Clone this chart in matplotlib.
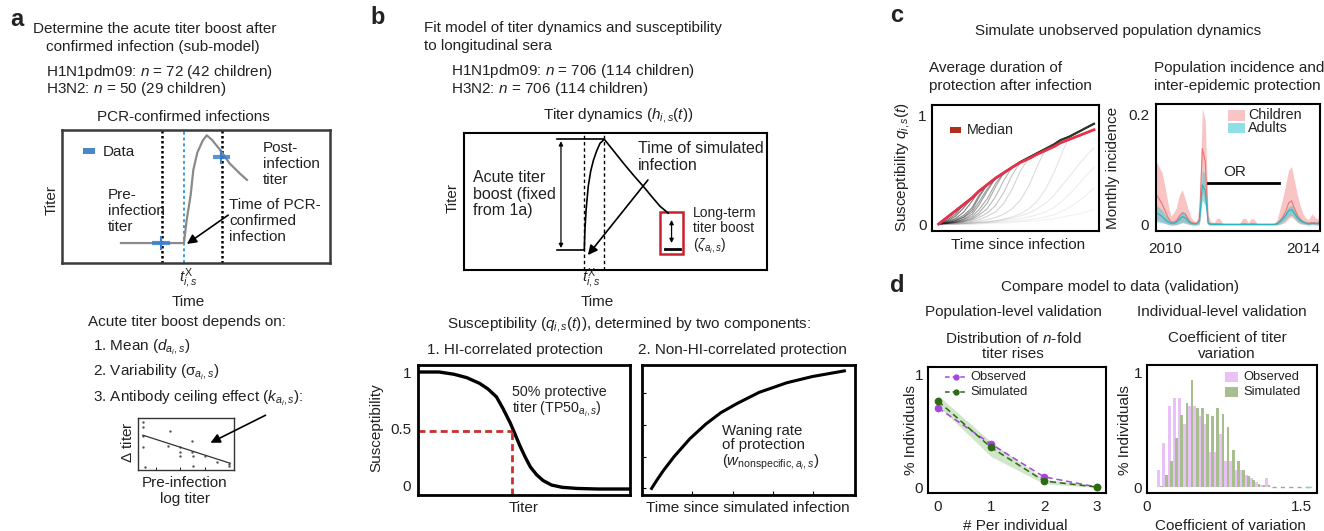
import numpy as np
import matplotlib
matplotlib.use("Agg")
import matplotlib.pyplot as plt
from matplotlib.patches import Rectangle, FancyArrowPatch
from matplotlib.lines import Line2D

plt.rcParams['font.family'] = ['Liberation Sans', 'DejaVu Sans']
plt.rcParams['mathtext.fontset'] = 'custom'
plt.rcParams['mathtext.rm'] = 'Liberation Sans'
plt.rcParams['mathtext.it'] = 'Liberation Sans:italic'
plt.rcParams['mathtext.bf'] = 'Liberation Sans:bold'
plt.rcParams['mathtext.sf'] = 'Liberation Sans'

# ---- panel a: schematic titer curve (time, titer in arbitrary 0-10 units)
t_pcr = [2.2, 4.55, 4.65, 4.8, 4.9, 5.05, 5.25, 5.4, 5.6, 5.9, 6.25, 6.65, 6.9]
h_pcr = [1.5, 1.5, 3.2, 5.1, 7.0, 8.3, 9.2, 9.6, 9.25, 8.5, 7.5, 6.7, 6.25]
sample_times = [3.73, 5.97]
pcr_time = 4.55
pre_titer = (3.36, 4.03, 1.5)
post_titer = (5.63, 6.27, 7.97)

# ceiling effect mini scatter
pre_log = [0.056, 0.056, 0.049, 0.05, 0.073, 0.33, 0.316, 0.44, 0.44, 0.44,
           0.56, 0.56, 0.57, 0.57, 0.70, 0.82, 0.95, 0.95]
delta_titer = [0.93, 0.83, 0.66, 0.45, 0.06, 0.75, 0.47, 0.45, 0.35, 0.26,
               0.56, 0.35, 0.27, 0.08, 0.26, 0.16, 0.11, 0.08]
fit_x = [0.05, 0.96]
fit_y = [0.67, 0.13]

# ---- panel b: titer dynamics
t_dyn = [3.07, 3.97, 3.99, 4.03, 4.1, 4.18, 4.27, 4.38, 4.49, 4.63, 4.9, 5.26,
         5.6, 5.92, 6.2, 6.47, 6.74]
h_dyn = [1.46, 1.46, 2.9, 4.4, 6.1, 7.2, 8.0, 8.7, 9.25, 9.54, 8.8, 7.8,
         6.9, 6.1, 5.35, 4.65, 4.15]

# susceptibility vs titer
sig_titer = [0.1, 1.0, 1.7, 2.3, 2.9, 3.3, 3.7, 4.0, 4.35, 4.6, 4.8, 5.05,
             5.3, 5.6, 5.9, 6.3, 6.8, 7.5, 8.5, 10.0]
sig_susc = [1.0, 1.0, 0.98, 0.95, 0.90, 0.85, 0.78, 0.68, 0.55, 0.44, 0.35,
            0.25, 0.16, 0.09, 0.04, 0.0, -0.02, -0.03, -0.035, -0.035]
tp50 = 4.45
tp50_level = 0.48

# waning of non-HI protection
wane_t = [0.45, 0.7, 1.0, 1.5, 2.25, 3.0, 3.7, 4.45, 5.5, 6.8, 8.0, 9.5]
wane_s = [-0.03, 0.044, 0.127, 0.25, 0.41, 0.54, 0.64, 0.72, 0.82, 0.905, 0.96, 1.01]

# ---- panel c left: susceptibility after infection
gx = [0.04, 0.09, 0.14, 0.19, 0.24, 0.28, 0.33, 0.38, 0.43, 0.48, 0.53, 0.58,
      0.63, 0.68, 0.73, 0.77, 0.82, 0.87, 0.92, 0.97]
envelope = [0.0, 0.06, 0.12, 0.18, 0.24, 0.30, 0.36, 0.42, 0.47, 0.52, 0.57,
            0.61, 0.65, 0.69, 0.73, 0.77, 0.80, 0.84, 0.88, 0.92]
median_q = [0.0, 0.06, 0.12, 0.18, 0.24, 0.30, 0.36, 0.42, 0.47, 0.52, 0.565,
            0.60, 0.64, 0.675, 0.71, 0.745, 0.775, 0.805, 0.835, 0.865]
gray_rises = [
    [0.0, 0.035, 0.09],
    [0.0, 0.025, 0.07, 0.15],
    [0.0, 0.02, 0.05, 0.11, 0.21],
    [0.0, 0.015, 0.04, 0.08, 0.15, 0.26],
    [0.0, 0.01, 0.03, 0.065, 0.13, 0.24],
    [0.0, 0.01, 0.03, 0.06, 0.11, 0.2, 0.32],
    [0.0, 0.01, 0.02, 0.045, 0.09, 0.17, 0.3],
    [0.0, 0.01, 0.02, 0.04, 0.07, 0.13, 0.23, 0.37],
    [0.0, 0.005, 0.015, 0.03, 0.055, 0.1, 0.19, 0.34],
    [0.0, 0.005, 0.015, 0.025, 0.045, 0.08, 0.14, 0.25, 0.4],
    [0.0, 0.005, 0.01, 0.02, 0.035, 0.06, 0.1, 0.17, 0.29, 0.45],
    [0.0, 0.005, 0.01, 0.015, 0.025, 0.04, 0.07, 0.11, 0.19, 0.32, 0.49],
    [0.0, 0.0, 0.005, 0.01, 0.015, 0.025, 0.04, 0.06, 0.09, 0.14, 0.22, 0.35, 0.53],
    [0.0, 0.0, 0.0, 0.005, 0.01, 0.015, 0.02, 0.03, 0.045, 0.065, 0.095, 0.14,
     0.21, 0.32, 0.47, 0.62],
    [0.0, 0.0, 0.0, 0.005, 0.01, 0.015, 0.02, 0.03, 0.04, 0.055, 0.075, 0.1,
     0.14, 0.19, 0.26, 0.34, 0.43, 0.53, 0.62, 0.70],
    [0.0, 0.0, 0.0, 0.0, 0.005, 0.01, 0.015, 0.02, 0.03, 0.04, 0.05, 0.065,
     0.085, 0.11, 0.15, 0.2, 0.27, 0.35, 0.44, 0.52],
    [0.0, 0.0, 0.0, 0.0, 0.0, 0.005, 0.01, 0.015, 0.02, 0.025, 0.03, 0.04,
     0.05, 0.065, 0.085, 0.11, 0.15, 0.2, 0.26, 0.33],
    [0.0, 0.0, 0.0, 0.0, 0.0, 0.0, 0.005, 0.01, 0.01, 0.015, 0.02, 0.025,
     0.03, 0.04, 0.05, 0.06, 0.075, 0.09, 0.11, 0.13],
]
gray_alpha = [0.6, 0.6, 0.55, 0.5, 0.5, 0.45, 0.45, 0.4, 0.38, 0.32, 0.26,
              0.2, 0.16, 0.12, 0.1, 0.08, 0.07, 0.06]

# ---- panel c right: monthly incidence, Oct 2009 onwards
start_year = 2009.75
child_med = [0.055, 0.047, 0.038, 0.026, 0.014, 0.006, 0.005, 0.008, 0.016, 0.022,
             0.020, 0.011, 0.005, 0.003, 0.003, 0.010, 0.139, 0.115, 0.004, 0.002,
             0.002, 0.002, 0.002, 0.001, 0.001, 0.001, 0.001, 0.001, 0.001, 0.001,
             0.002, 0.002, 0.001, 0.002, 0.002, 0.001, 0.001, 0.001, 0.001, 0.001,
             0.001, 0.001, 0.003, 0.008, 0.015, 0.025, 0.040, 0.044, 0.030, 0.018,
             0.010, 0.006, 0.004, 0.003, 0.004, 0.004, 0.003, 0.008]
child_lo = [0.010, 0.008, 0.005, 0.003, 0.001, 0.0, 0.0, 0.0, 0.002, 0.004,
            0.003, 0.001, 0.0, 0.0, 0.0, 0.0, 0.060, 0.040, 0.0, 0.0,
            0.0, 0.0, 0.0, 0.0, 0.0, 0.0, 0.0, 0.0, 0.0, 0.0,
            0.0, 0.0, 0.0, 0.0, 0.0, 0.0, 0.0, 0.0, 0.0, 0.0,
            0.0, 0.0, 0.0, 0.001, 0.003, 0.006, 0.012, 0.015, 0.010, 0.005,
            0.002, 0.001, 0.0, 0.0, 0.0, 0.0, 0.0, 0.0]
child_hi = [0.115, 0.105, 0.095, 0.070, 0.040, 0.016, 0.022, 0.032, 0.055, 0.064,
            0.048, 0.030, 0.014, 0.008, 0.006, 0.040, 0.212, 0.190, 0.018, 0.006,
            0.004, 0.012, 0.012, 0.004, 0.003, 0.003, 0.003, 0.003, 0.003, 0.003,
            0.012, 0.012, 0.004, 0.012, 0.010, 0.003, 0.003, 0.003, 0.003, 0.003,
            0.003, 0.003, 0.010, 0.030, 0.050, 0.075, 0.100, 0.106, 0.080, 0.055,
            0.035, 0.020, 0.012, 0.010, 0.020, 0.015, 0.010, 0.030]
adult_med = [0.022, 0.019, 0.015, 0.010, 0.006, 0.003, 0.003, 0.005, 0.010, 0.015,
             0.013, 0.007, 0.003, 0.002, 0.002, 0.008, 0.073, 0.062, 0.003, 0.001,
             0.001, 0.001, 0.001, 0.001, 0.001, 0.001, 0.001, 0.001, 0.001, 0.001,
             0.001, 0.001, 0.001, 0.001, 0.001, 0.001, 0.001, 0.001, 0.001, 0.001,
             0.001, 0.001, 0.002, 0.006, 0.011, 0.018, 0.026, 0.028, 0.021, 0.013,
             0.008, 0.005, 0.003, 0.002, 0.003, 0.003, 0.002, 0.005]
adult_lo = [0.006, 0.005, 0.004, 0.003, 0.001, 0.0, 0.0, 0.001, 0.003, 0.005,
            0.004, 0.002, 0.001, 0.0, 0.0, 0.003, 0.045, 0.035, 0.0, 0.0,
            0.0, 0.0, 0.0, 0.0, 0.0, 0.0, 0.0, 0.0, 0.0, 0.0,
            0.0, 0.0, 0.0, 0.0, 0.0, 0.0, 0.0, 0.0, 0.0, 0.0,
            0.0, 0.0, 0.0, 0.002, 0.005, 0.010, 0.016, 0.018, 0.012, 0.006,
            0.003, 0.002, 0.001, 0.0, 0.001, 0.001, 0.0, 0.001]
adult_hi = [0.036, 0.032, 0.027, 0.019, 0.012, 0.006, 0.007, 0.010, 0.018, 0.025,
            0.022, 0.013, 0.006, 0.004, 0.004, 0.015, 0.100, 0.092, 0.006, 0.003,
            0.002, 0.002, 0.002, 0.002, 0.002, 0.002, 0.002, 0.002, 0.002, 0.002,
            0.002, 0.002, 0.002, 0.002, 0.002, 0.002, 0.002, 0.002, 0.002, 0.002,
            0.002, 0.002, 0.005, 0.010, 0.016, 0.024, 0.034, 0.036, 0.028, 0.019,
            0.012, 0.008, 0.006, 0.005, 0.006, 0.005, 0.004, 0.010]
or_span = (2011.26, 2013.3)
or_level = 0.077

# ---- panel d left: n-fold rises
n_rises = [0, 1, 2, 3]
obs_frac = [0.70, 0.38, 0.09, 0.0]
sim_frac = [0.76, 0.35, 0.053, 0.0]
sim_lo = [0.72, 0.27, 0.03, -0.005]
sim_hi = [0.81, 0.40, 0.07, 0.01]

# ---- panel d right: coefficient of variation histogram
cv_bins = [0.10, 0.15, 0.20, 0.25, 0.30, 0.35, 0.40, 0.45, 0.50, 0.55, 0.60, 0.65,
           0.70, 0.75, 0.80, 0.85, 0.90, 0.95, 1.00, 1.05, 1.10, 1.15, 1.20]
cv_obs = [0.15, 0.39, 0.71, 0.78, 0.78, 0.55, 0.71, 0.71, 0.62, 0.55, 0.31, 0.31,
          0.47, 0.23, 0.23, 0.15, 0.15, 0.11, 0.08, 0.05, 0.02, 0.08, 0.0]
cv_sim = [0.01, 0.11, 0.23, 0.43, 0.63, 0.74, 0.94, 0.69, 0.69, 0.64, 0.62, 0.69,
          0.64, 0.53, 0.33, 0.23, 0.15, 0.10, 0.06, 0.03, 0.02, 0.02, 0.0]
cv_tail = [1.22, 1.6]

W, H = 1324, 531
fig = plt.figure(figsize=(W / 100, H / 100), dpi=100)
TXT = '#222222'
FS = 11


def px_axes(x0, y0, x1, y1, lw=1.5, ec='black'):
    ax = fig.add_axes([x0 / W, 1 - y1 / H, (x1 - x0) / W, (y1 - y0) / H])
    for sp in ax.spines.values():
        sp.set_linewidth(lw)
        sp.set_color(ec)
    ax.set_xticks([])
    ax.set_yticks([])
    return ax


def label(x, y, s, size=FS, ha='left', va='center', **kw):
    fig.text(x / W, 1 - y / H, s, fontsize=size, ha=ha, va=va, color=TXT, **kw)


def fig_line(xs, ys, **kw):
    fig.add_artist(Line2D([x / W for x in xs], [1 - y / H for y in ys],
                          transform=fig.transFigure, **kw))


def fig_rect(x0, y0, x1, y1, color):
    fig.add_artist(Rectangle((x0 / W, 1 - y1 / H), (x1 - x0) / W, (y1 - y0) / H,
                             transform=fig.transFigure, color=color, lw=0))


def fig_arrow(x0, y0, x1, y1, ms=14):
    fig.add_artist(FancyArrowPatch(
        (x0 / W, 1 - y0 / H), (x1 / W, 1 - y1 / H), transform=fig.transFigure,
        arrowstyle='-|>', mutation_scale=ms, lw=1.2, color='black'))


arrow_kw = dict(arrowstyle='-|>', lw=1.2, color='black', mutation_scale=14,
                shrinkA=0, shrinkB=0)
dbl_kw = dict(arrowstyle='<|-|>', lw=0.9, color='black', mutation_scale=6,
              shrinkA=0, shrinkB=0)

# ================= panel a =================
label(10, 20, 'a', size=17, weight='bold')
label(33, 29, 'Determine the acute titer boost after')
label(46, 47, 'confirmed infection (sub-model)')
label(46, 72, 'H1N1pdm09: $n$ = 72 (42 children)')
label(46, 89, 'H3N2: $n$ = 50 (29 children)')
label(183, 117, 'PCR-confirmed infections', ha='center')

axA = px_axes(62, 130, 330, 263, lw=1.8, ec='#3a3a3a')
axA.set_xlim(0, 10)
axA.set_ylim(0, 10)
for t in sample_times:
    axA.axvline(t, color='black', ls=(0, (1, 1)), lw=1.8)
axA.axvline(pcr_time, color='#3a9be0', ls=(0, (1.5, 1.5)), lw=1.4)
axA.plot(t_pcr, h_pcr, color='#8a8a8a', lw=1.6)
axA.plot(pre_titer[:2], [pre_titer[2]] * 2, color='#3b7fd0', lw=3, alpha=0.85,
         solid_capstyle='butt')
axA.plot(post_titer[:2], [post_titer[2]] * 2, color='#3b7fd0', lw=3, alpha=0.85,
         solid_capstyle='butt')
axA.plot([5.95, 5.95], [7.5, 8.45], color='#3b7fd0', lw=1.5)
axA.plot([3.7, 3.7], [1.05, 1.95], color='#3b7fd0', lw=1.5)
axA.add_patch(Rectangle((0.78, 8.2), 0.45, 0.45, color='#4a86c8', lw=0))
axA.annotate('', xy=(4.66, 1.43), xytext=(6.2, 3.6), arrowprops=arrow_kw)
label(103, 152, 'Data')
label(263, 164, 'Post-\ninfection\ntiter', linespacing=1.15)
label(108, 211, 'Pre-\ninfection\ntiter', linespacing=1.15)
label(229, 221, 'Time of PCR-\nconfirmed\ninfection', linespacing=1.15)
label(52, 200, 'Titer', ha='center', rotation=90)
label(188, 279, r'$t^{\mathrm{X}}_{i,s}$', ha='center', size=11)
label(188, 302, 'Time', ha='center')

label(88, 322, 'Acute titer boost depends on:')
label(93, 347, r'1. Mean ($d_{a_i,s}$)')
label(93, 372, r'2. Variability ($\mathrm{\sigma}_{a_i,s}$)')
label(93, 398, r'3. Antibody ceiling effect ($k_{a_i,s}$):')

axA2 = px_axes(138, 418, 234, 470, lw=1.0, ec='#333333')
axA2.set_xlim(0, 1)
axA2.set_ylim(0, 1)
axA2.scatter(pre_log, delta_titer, s=3, color='#555555', lw=0)
axA2.plot(fit_x, fit_y, color='#333333', lw=0.9)
axA2.set_xticks([0.19, 0.44, 0.70])
axA2.set_xticklabels([])
axA2.tick_params(axis='x', direction='in', length=2, width=0.6)
label(128, 442, r'$\Delta$ titer', ha='center', rotation=90)
label(185, 491, 'Pre-infection\nlog titer', ha='center', linespacing=1.1)
fig_arrow(268, 414, 208, 444)

# ================= panel b =================
label(370, 18, 'b', size=17, weight='bold')
label(424, 28, 'Fit model of titer dynamics and susceptibility')
label(424, 46, 'to longitudinal sera')
label(451, 71, 'H1N1pdm09: $n$ = 706 (114 children)')
label(451, 89, 'H3N2: $n$ = 706 (114 children)')
label(618, 115, r'Titer dynamics ($h_{i,s}(t)$)', ha='center')

axB = px_axes(464, 133, 767, 270, lw=1.5)
axB.set_xlim(0, 10)
axB.set_ylim(0, 10)
for t in (3.96, 4.62):
    axB.axvline(t, color='black', ls=(0, (2.5, 2)), lw=1.0)
axB.plot(t_dyn, h_dyn, color='black', lw=1.2)
axB.plot([3.07, 4.62], [9.56, 9.56], color='black', lw=1.2)
axB.annotate('', xy=(3.2, 1.6), xytext=(3.2, 9.4), arrowprops=dbl_kw)
axB.annotate('', xy=(4.09, 1.09), xytext=(6.07, 6.57), arrowprops=arrow_kw)
axB.add_patch(Rectangle((6.47, 1.17), 0.76, 3.06, fill=False,
                        ec='#c8202c', lw=1.8))
axB.annotate('', xy=(6.85, 1.97), xytext=(6.85, 3.65), arrowprops=dbl_kw)
axB.plot([6.63, 7.13], [1.53, 1.53], color='black', lw=2)
label(473, 194, 'Acute titer\nboost (fixed\nfrom 1a)', size=11.5, linespacing=1.1)
label(638, 157, 'Time of simulated\ninfection', size=11.5, linespacing=1.1)
label(693, 231, 'Long-term\ntiter boost\n' + r'($\zeta_{a_i,s}$)', size=10,
      linespacing=1.1)
label(453, 198, 'Titer', ha='center', rotation=90)
label(591, 279, r'$t^{\mathrm{X}}_{i,s}$', ha='center', size=11)
label(597, 302, 'Time', ha='center')

label(629, 324, r'Susceptibility ($q_{i,s}(t)$), determined by two components:',
      ha='center')
label(515, 350, '1. HI-correlated protection', ha='center')
label(742, 350, '2. Non-HI-correlated protection', ha='center')

axS = px_axes(418, 365, 630, 495, lw=2)
axS.set_xlim(0, 10)
axS.set_ylim(-0.088, 1.062)
axS.plot(sig_titer, sig_susc, color='black', lw=2.4)
axS.plot([0, tp50], [tp50_level, tp50_level], color='#c8302c', lw=2,
         ls=(0, (2.5, 1.5)))
axS.plot([tp50, tp50], [-0.088, tp50_level], color='#c8302c', lw=2,
         ls=(0, (2.5, 1.5)))
axS.set_yticks([0, 0.5, 1])
axS.set_yticklabels(['0', '0.5', '1'])
axS.tick_params(axis='y', length=0, pad=5, labelsize=FS, labelcolor=TXT)
label(512, 402, '50% protective\ntiter (TP50$_{a_i,s}$)', size=10.3,
      linespacing=1.05)
label(376, 428, 'Susceptibility', ha='center', rotation=90)
label(524, 508, 'Titer', ha='center')

axW = px_axes(642, 365, 855, 495, lw=2)
axW.set_xlim(0, 10)
axW.set_ylim(-0.088, 1.062)
axW.plot(wane_t, wane_s, color='black', lw=2.2)
axW.set_xticks([2.33, 4.29, 6.17, 8.04])
axW.set_yticks([-0.03, 0.25, 0.53, 0.81])
axW.set_xticklabels([])
axW.set_yticklabels([])
axW.tick_params(direction='in', length=3, width=0.8)
label(722, 448, 'Waning rate\nof protection\n' +
      r'($w_{\mathrm{nonspecific},a_i,s}$)', size=10.8, linespacing=1.05)
label(748, 508, 'Time since simulated infection', ha='center')

# ================= panel c =================
label(890, 15, 'c', size=17, weight='bold')
label(1118, 31, 'Simulate unobserved population dynamics', ha='center')
label(929, 68, 'Average duration of')
label(929, 86, 'protection after infection')
label(1154, 68, 'Population incidence and')
label(1154, 86, 'inter-epidemic protection')

axC1 = px_axes(932, 105, 1099, 231, lw=1.5)
axC1.set_xlim(0, 1)
axC1.set_ylim(-0.064, 1.092)
for rise, a in zip(gray_rises, gray_alpha):
    curve = rise + envelope[len(rise):]
    axC1.plot(gx, curve, color='#202020', lw=0.8, alpha=a)
axC1.plot(gx, envelope, color='#2a3a2a', lw=1.6)
axC1.plot(gx, median_q, color='#e8304a', lw=2)
axC1.set_yticks([0, 1])
axC1.set_yticklabels(['0', '1'])
axC1.tick_params(axis='y', length=0, pad=4, labelsize=FS, labelcolor=TXT)
fig_rect(950, 127, 961, 133, '#b0301c')
label(967, 130, 'Median', size=10.3)
label(903, 167, r'Susceptibility $q_{i,s}(t)$', ha='center', rotation=90)
label(1018, 245, 'Time since infection', ha='center')

months = [start_year + i / 12 for i in range(len(child_med))]
axC2 = px_axes(1156, 104, 1320, 231, lw=1.5)
axC2.set_xlim(2009.74, 2014.49)
axC2.set_ylim(-0.011, 0.22)
axC2.fill_between(months, child_lo, child_hi, color='#f9c4c4', lw=0)
axC2.plot(months, child_med, color='#f07272', lw=0.8)
axC2.fill_between(months, adult_lo, adult_hi, color='#4cc6cc', alpha=0.55, lw=0)
axC2.plot(months, adult_med, color='#2ab4c0', lw=0.9)
axC2.plot(or_span, [or_level, or_level], color='black', lw=2)
axC2.text(np.mean(or_span) - 0.25, or_level + 0.006, 'OR', fontsize=FS,
          ha='center', va='bottom', color=TXT)
axC2.set_yticks([0, 0.2])
axC2.set_yticklabels(['0', '0.2'])
axC2.set_xticks([2010, 2014])
axC2.set_xticklabels(['2010', '2014'])
axC2.tick_params(length=0, labelsize=FS, labelcolor=TXT)
axC2.tick_params(axis='y', pad=5)
axC2.tick_params(axis='x', pad=8)
fig_rect(1228, 110, 1245, 121, '#f9c4c4')
fig_rect(1228, 123, 1245, 133, '#8fe0e6')
label(1248, 115, 'Children', size=10.3)
label(1248, 128, 'Adults', size=10.3)
label(1113, 168, 'Monthly incidence', ha='center', rotation=90)

# ================= panel d =================
label(890, 285, 'd', size=17, weight='bold')
label(1120, 287, 'Compare model to data (validation)', ha='center')
label(1013, 312, 'Population-level validation', ha='center')
label(1222, 312, 'Individual-level validation', ha='center')
label(1013, 346, 'Distribution of $n$-fold\ntiter rises', ha='center',
      linespacing=1.15)
label(1227, 346, 'Coefficient of titer\nvariation', ha='center', linespacing=1.15)

axD1 = px_axes(928, 367, 1106, 493, lw=1.5)
axD1.set_xlim(-0.19, 3.17)
axD1.set_ylim(-0.053, 1.062)
axD1.fill_between(n_rises, sim_lo, sim_hi, color='#cfe6c8', lw=0)
axD1.plot(n_rises, obs_frac, color='#a845e0', lw=1.1, ls=(0, (4, 2.5)),
          marker='o', ms=4.5)
axD1.plot(n_rises, sim_frac, color='#2d6a12', lw=1.1, ls=(0, (4, 2.5)),
          marker='o', ms=4.5)
axD1.set_xticks(n_rises)
axD1.set_yticks([0, 1])
axD1.set_yticklabels(['0', '1'])
axD1.tick_params(length=0, labelsize=FS, labelcolor=TXT)
axD1.tick_params(axis='x', pad=5)
fig_line([945, 967], [377, 377], color='#a845e0', lw=1.1, ls=(0, (3, 2)))
fig_line([956], [377], color='#a845e0', marker='o', ms=3.5)
fig_line([945, 967], [392, 392], color='#2d6a12', lw=1.1, ls=(0, (3, 2)))
fig_line([956], [392], color='#2d6a12', marker='o', ms=3.5)
label(970, 377, 'Observed', size=9.3)
label(970, 392, 'Simulated', size=9.3)
label(911, 430, '% Individuals', ha='center', rotation=90)
label(1015, 526, '# Per individual', ha='center')

axD2 = px_axes(1147, 365, 1317, 493, lw=1.5)
axD2.set_xlim(0, 1.655)
axD2.set_ylim(-0.05, 1.07)
axD2.bar(cv_bins, cv_obs, width=0.029, align='edge', color='#e8c2f6', lw=0)
axD2.bar([c + 0.026 for c in cv_bins], cv_sim, width=0.026, align='edge',
         color='#a7bf8f', lw=0)
axD2.plot(cv_tail, [0.004, 0.004], color='#9aaa90', lw=1, ls=(0, (3, 3)))
axD2.plot([1.56, 1.6], [0.004, 0.004], color='#80d8e0', lw=1)
axD2.set_xticks([0, 1.5])
axD2.set_xticklabels(['0', '1.5'])
axD2.set_yticks([0, 1])
axD2.set_yticklabels(['0', '1'])
axD2.tick_params(length=0, labelsize=FS, labelcolor=TXT)
axD2.tick_params(axis='x', pad=5)
fig_rect(1225, 372, 1238, 382, '#e8c2f6')
fig_rect(1225, 387, 1238, 397, '#a7bf8f')
label(1243, 377, 'Observed', size=9.3)
label(1243, 392, 'Simulated', size=9.3)
label(1125, 430, '% Individuals', ha='center', rotation=90)
label(1230, 526, 'Coefficient of variation', ha='center')

fig.savefig('out.png', dpi=100)
